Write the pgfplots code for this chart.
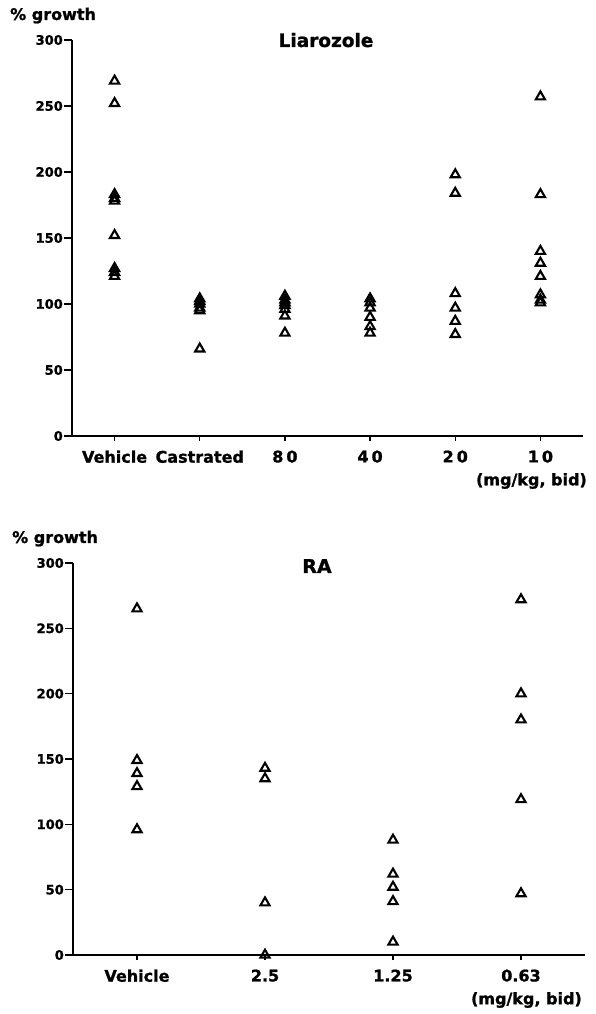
\documentclass[border=0pt]{standalone}
\usepackage{pgfplots}
\pgfplotsset{compat=1.18}
\usepackage{fontspec}
\setmainfont{DejaVu Sans}[BoldFeatures={FakeBold=1.2}]
\begin{document}
\begin{tikzpicture}
\useasboundingbox (0pt,0pt) rectangle (596pt,1014pt);
\pgfplotsset{
  every axis/.append style={
    scale only axis, clip=false,
    axis lines*=left,
    axis line style={line width=1.8pt, black},
    ymin=0, ymax=300, ytick={0,50,...,300},
    tick align=outside,
    major tick length=8pt,
    tick style={line width=1.4pt, black},
    xtick style={/pgfplots/major tick length=5pt},
    /pgf/number format/assume math mode=true,
    yticklabel style={font=\fontsize{13}{13}\selectfont\bfseries, inner sep=1pt},
    xticklabel style={font=\fontsize{16}{16}\selectfont\bfseries, yshift=-3pt},
  },
  tri/.style={only marks, mark=triangle, mark size=5.3pt, mark options={line width=2.1pt, black, fill=white}},
}
% ---------- Top: Liarozole ----------
\begin{axis}[at={(72pt,578pt)}, anchor=south west, width=511pt, height=396pt,
  xmin=-0.5, xmax=5.5, xtick={0,1,2,3,4,5},
  xticklabels={Vehicle,Castrated,8\hspace{3pt}0,4\hspace{3pt}0,2\hspace{3pt}0,1\hspace{3pt}0}]
\addplot[tri] table {
x y
0 269
0 252
0 183
0 180
0 178
0 152
0 127
0 124
0 121
1 104
1 102
1 100
1 97
1 95
1 66
2 106
2 103
2 101
2 99
2 96
2 91
2 78
3 104
3 101
3 97
3 90
3 83
3 78
4 198
4 184
4 108
4 97
4 87
4 77
5 257
5 183
5 140
5 131
5 121
5 107
5 103
5 101
};
\end{axis}
% ---------- Bottom: RA ----------
\begin{axis}[at={(73pt,59pt)}, anchor=south west, width=512pt, height=392pt,
  xmin=-0.5, xmax=3.5, xtick={0,1,2,3},
  xticklabels={Vehicle,2.5,1.25,0.63}]
\addplot[tri] table {
x y
0 265
0 149
0 139
0 129
0 96
1 143
1 135
1 40
1 0
2 88
2 62
2 52
2 41
2 10
3 272
3 200
3 180
3 119
3 47
};
\end{axis}
% texts
\node[anchor=base west, inner sep=0pt, font=\fontsize{16}{16}\selectfont\bfseries] at (10pt,994pt) {\% growth};
\node[anchor=base west, inner sep=0pt, font=\fontsize{16}{16}\selectfont\bfseries] at (12pt,471pt) {\% growth};
\node[anchor=base, inner sep=0pt, font=\fontsize{18.5}{18.5}\selectfont\bfseries] at (326pt,967pt) {Liarozole};
\node[anchor=base, inner sep=0pt, font=\fontsize{19}{19}\selectfont\bfseries] at (317pt,441pt) {RA};
\node[anchor=east, inner sep=0pt, font=\fontsize{16}{16}\selectfont\bfseries] at (587pt,533pt) {(mg/kg, bid)};
\node[anchor=east, inner sep=0pt, font=\fontsize{16}{16}\selectfont\bfseries] at (582pt,14pt) {(mg/kg, bid)};
\end{tikzpicture}
\end{document}
